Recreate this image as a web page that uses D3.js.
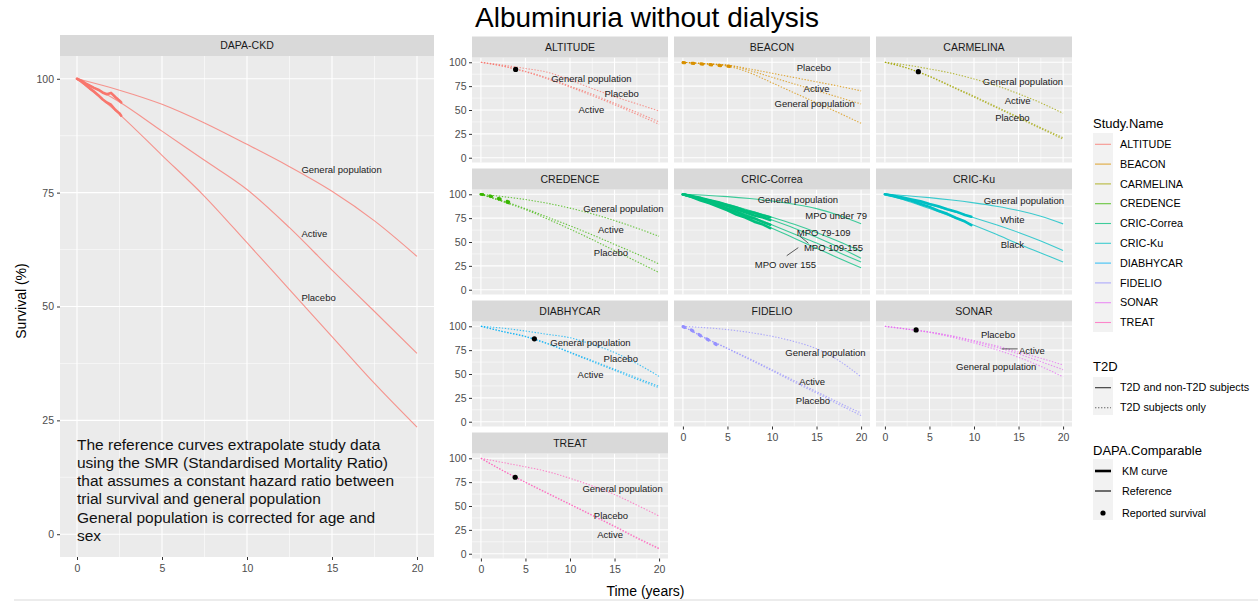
<!DOCTYPE html>
<html>
<head>
<meta charset="utf-8">
<script src="https://cdn.jsdelivr.net/npm/d3@7"></script>
<style>
  body { margin: 0; background: #fff; }
  svg { display: block; font-family: "Liberation Sans", Arial, sans-serif; }
</style>
</head>
<body>
<svg id="chart" width="1258" height="601"></svg>
<script>
  // time grid the reference curves were read at (years)
  const years = [0, 2.5, 5, 7.5, 10, 12.5, 15, 17.5, 20];

  const studyNames = ["ALTITUDE", "BEACON", "CARMELINA", "CREDENCE", "CRIC-Correa", "CRIC-Ku", "DIABHYCAR", "FIDELIO", "SONAR", "TREAT"];
  const studyColors = ["#F8766D", "#D89000", "#A3A500", "#39B600", "#00BF7D", "#00BFC4", "#00B0F6", "#9590FF", "#E76BF3", "#FF62BC"];

  // DAPA-CKD
  const dapaGeneral = [100, 97.5, 94.4, 90.3, 85.6, 80.7, 75.3, 68.8, 61];
  const dapaActive = [100, 94.9, 88.5, 82.1, 75.7, 67.3, 58, 48.9, 39.7];
  const dapaPlacebo = [100, 92.2, 83.2, 74.2, 64, 53.7, 43.4, 33.1, 23.5];
  const dapaKmTimes = [0, 0.25, 0.5, 0.75, 1, 1.25, 1.5, 1.75, 2, 2.25, 2.5, 2.6];
  const dapaKmActive = [100, 99.6, 99, 98.5, 98, 97.6, 97, 96.6, 96.9, 96, 95.2, 94.8];
  const dapaKmPlacebo = [100, 99.4, 98.7, 97.9, 97.2, 96.4, 95.5, 94.8, 94.3, 93.2, 92.4, 91.9];

  // ALTITUDE
  const altitudeGeneral = [100, 97, 93.5, 89.5, 81.5, 72.5, 64, 56.5, 49];
  const altitudePlacebo = [100, 96, 90.5, 83.5, 75, 66.5, 57, 47.5, 37.5];
  const altitudeActive = [100, 95.8, 90, 82.5, 74, 65, 55.5, 45.5, 35];

  // BEACON
  const beaconPlacebo = [100, 98.5, 97, 93, 88.5, 84, 79.5, 75, 70];
  const beaconActive = [100, 98.5, 97, 91.3, 84.3, 77.3, 70.3, 63.3, 56.3];
  const beaconGeneral = [100, 98.3, 96, 89, 78.5, 68, 57.5, 47, 36];
  const beaconKmTimes = [0, 1, 2, 3, 4, 5, 6];
  const beaconKm = [100, 99.3, 98.6, 97.8, 97, 96.2, 95.5];

  // CARMELINA
  const carmelinaGeneral = [100, 97, 93, 88.5, 82.5, 75.5, 67, 57.5, 46.5];
  const carmelinaActive = [100, 94, 85.5, 75, 64.5, 53.5, 42.5, 31.5, 21];
  const carmelinaPlacebo = [100, 93.8, 85, 74.3, 63.5, 52.5, 41.5, 30.5, 19.5];

  // CREDENCE
  const credenceGeneral = [100, 97.5, 94.5, 90.5, 85.5, 79.5, 72.5, 64.5, 56];
  const credenceActive = [100, 93, 85, 76, 67, 57.5, 47.5, 37.5, 27];
  const credencePlacebo = [100, 92, 84, 74, 63.5, 52.5, 41, 29.5, 18];
  const credenceKmTimes = [0, 0.5, 1, 1.5, 2, 2.5, 3, 3.3];
  const credenceKmActive = [100, 99.4, 98.4, 97.2, 95.8, 94.3, 92.6, 91.6];
  const credenceKmPlacebo = [100, 99.2, 98, 96.6, 95, 93.2, 91.3, 90.2];

  // CRIC-Correa
  const correaGeneral = [100, 99, 97.5, 95.5, 93, 89.5, 85, 78, 69];
  const correaUnder79 = [100, 95, 89.5, 83, 76, 68.5, 60, 50.5, 40];
  const correaMpo79 = [100, 94.5, 88, 81, 73, 64.5, 55, 44.5, 33];
  const correaMpo109 = [100, 93.5, 86, 77.5, 68, 58.5, 49, 39, 29];
  const correaMpo155 = [100, 93, 84, 74.5, 64.5, 54, 43.5, 33, 23];
  const correaKmTimes = [0, 1, 2, 3, 4, 5, 6, 7, 8, 9, 9.8];
  const correaKmUnder79 = [100, 98, 96.2, 93.8, 91.6, 88.8, 86.2, 82.8, 80.6, 77.8, 76];
  const correaKmMpo79 = [100, 97.8, 95.3, 93.2, 90.3, 87.7, 84.3, 81.2, 77.8, 75.7, 73];
  const correaKmMpo109 = [100, 97.4, 94.7, 91.3, 88.7, 84.8, 81.7, 77.8, 74.7, 70.8, 68];
  const correaKmMpo155 = [100, 97.1, 93.4, 90.6, 86.8, 83.2, 78.8, 75.7, 71.3, 68.2, 64.5];

  // CRIC-Ku
  const kuGeneral = [100, 98.5, 96.5, 94, 91, 87.5, 83, 77, 69];
  const kuWhite = [100, 94.5, 89, 82.5, 75.5, 68, 60, 51, 41];
  const kuBlack = [100, 93, 85, 76.5, 67.5, 58, 48, 38.5, 29];
  const kuKmTimes = [0, 1, 2, 3, 4, 5, 6, 7, 8, 9, 9.7];
  const kuKmWhite = [100, 98.4, 96.7, 94.6, 92.7, 89.8, 87.5, 84.3, 81.8, 78.3, 76.5];
  const kuKmBlack = [100, 98, 95.6, 93.2, 89.8, 86.8, 82.8, 79.5, 75.2, 71.4, 67.6];

  // DIABHYCAR
  const diabGeneral = [100, 98, 95, 91.5, 88, 81, 72.5, 61, 47.5];
  const diabPlacebo = [100, 94.5, 89.5, 82, 73, 64, 55, 46, 37];
  const diabActive = [100, 94.3, 89, 81.5, 72.3, 63, 53.8, 44.5, 35.5];

  // FIDELIO
  const fidelioGeneral = [100, 98.5, 96.5, 93.5, 89.5, 84, 76.5, 64, 47];
  const fidelioActive = [100, 88, 77, 66, 54.5, 43, 31.5, 20, 9];
  const fidelioPlacebo = [100, 87.5, 76.5, 65, 53.5, 41.5, 30, 18, 6.5];
  const fidelioKmTimes = [0, 0.5, 1, 1.5, 2, 2.5, 3, 3.5, 4];
  const fidelioKm = [100, 98.3, 96.2, 93.5, 90.5, 88, 85.5, 82.8, 80];

  // SONAR
  const sonarPlacebo = [100, 97, 94, 90, 85, 79.5, 73, 66.5, 59.5];
  const sonarActive = [100, 97, 94, 89.5, 84, 78, 71, 63, 54.5];
  const sonarGeneral = [100, 97, 93.5, 88.5, 82.5, 75.5, 67.5, 58, 47];

  // TREAT
  const treatGeneral = [100, 95.5, 91, 86, 79, 71, 62, 51, 39.5];
  const treatPlacebo = [100, 87, 75, 63.5, 52, 40.5, 29, 17, 5.7];
  const treatActive = [100, 86.8, 74.7, 63, 51.5, 40, 28.3, 16.2, 5];

  // reported survival points [year, %]
  const reported = {
    "ALTITUDE": [3.9, 92.5], "CARMELINA": [3.75, 90.2], "DIABHYCAR": [6, 86.8],
    "SONAR": [3.5, 96.2], "TREAT": [3.85, 80.1]
  };

  // curve labels [text, year, %]
  const dapaLabels = [["General population", 13.2, 80], ["Active", 13.2, 66], ["Placebo", 13.2, 52]];
  const altitudeLabels = [["General population", 12.4, 83.2], ["Placebo", 15.8, 67.5], ["Active", 12.4, 50]];
  const beaconLabels = [["Placebo", 14.7, 94.3], ["Active", 15, 72], ["General population", 14.8, 56.3]];
  const carmelinaLabels = [["General population", 15.5, 79.7], ["Active", 14.9, 59.4], ["Placebo", 14.3, 41.9]];
  const credenceLabels = [["General population", 16, 85.3], ["Active", 14.6, 63.3], ["Placebo", 14.6, 38.8]];
  const correaLabels = [["General population", 12.9, 94.8], ["MPO under 79", 17.2, 77.3], ["MPO 79-109", 15.8, 60.2], ["MPO 109-155", 16.9, 44.4], ["MPO over 155", 11.5, 26.7]];
  const kuLabels = [["General population", 15.6, 93.3], ["White", 14.3, 73], ["Black", 14.3, 46.8]];
  const diabLabels = [["General population", 12.3, 83.2], ["Placebo", 15.7, 65.8], ["Active", 12.3, 49.4]];
  const fidelioLabels = [["General population", 16, 72.1], ["Active", 14.5, 42], ["Placebo", 14.6, 22.1]];
  const sonarLabels = [["Placebo", 12.7, 91], ["Active", 16.5, 74.5], ["General population", 12.5, 57.8]];
  const treatLabels = [["General population", 15.9, 67.8], ["Placebo", 14.6, 39.5], ["Active", 14.5, 20.3]];

  // label leader segments [x1, y1, x2, y2] in data units
  const correaLeaders = [[13.1, 56.3, 14.1, 48.6], [12.95, 44.1, 11.65, 35.6]];
  const sonarLeaders = [[13.1, 76.3, 14.9, 76.3]];

  const svg = d3.select("#chart");
  const zip = (xs, ys) => xs.map((t, i) => [t, ys[i]]);

  const panels = [
    { name: "ALTITUDE", row: 0, col: 0, ref: [altitudeGeneral, altitudePlacebo, altitudeActive], km: [], labels: altitudeLabels },
    { name: "BEACON", row: 0, col: 1, ref: [beaconPlacebo, beaconActive, beaconGeneral],
      km: [zip(beaconKmTimes, beaconKm), zip(beaconKmTimes, beaconKm.map(v => v - 0.6))], labels: beaconLabels },
    { name: "CARMELINA", row: 0, col: 2, ref: [carmelinaGeneral, carmelinaActive, carmelinaPlacebo], km: [], labels: carmelinaLabels },
    { name: "CREDENCE", row: 1, col: 0, ref: [credenceGeneral, credenceActive, credencePlacebo],
      km: [zip(credenceKmTimes, credenceKmActive), zip(credenceKmTimes, credenceKmPlacebo)], labels: credenceLabels },
    { name: "CRIC-Correa", row: 1, col: 1, solid: true, ref: [correaGeneral, correaUnder79, correaMpo79, correaMpo109, correaMpo155],
      km: [zip(correaKmTimes, correaKmUnder79), zip(correaKmTimes, correaKmMpo79), zip(correaKmTimes, correaKmMpo109), zip(correaKmTimes, correaKmMpo155)],
      labels: correaLabels, leaders: correaLeaders },
    { name: "CRIC-Ku", row: 1, col: 2, solid: true, ref: [kuGeneral, kuWhite, kuBlack],
      km: [zip(kuKmTimes, kuKmWhite), zip(kuKmTimes, kuKmBlack)], labels: kuLabels },
    { name: "DIABHYCAR", row: 2, col: 0, ref: [diabGeneral, diabPlacebo, diabActive], km: [], labels: diabLabels },
    { name: "FIDELIO", row: 2, col: 1, ref: [fidelioGeneral, fidelioActive, fidelioPlacebo],
      km: [zip(fidelioKmTimes, fidelioKm), zip(fidelioKmTimes, fidelioKm.map(v => v - 0.8))], labels: fidelioLabels },
    { name: "SONAR", row: 2, col: 2, ref: [sonarPlacebo, sonarActive, sonarGeneral], km: [], labels: sonarLabels, leaders: sonarLeaders },
    { name: "TREAT", row: 3, col: 0, ref: [treatGeneral, treatPlacebo, treatActive], km: [], labels: treatLabels }
  ];

  const majorBreaks = [0, 25, 50, 75, 100];
  const minorBreaksY = [12.5, 37.5, 62.5, 87.5];
  const majorBreaksX = [0, 5, 10, 15, 20];
  const minorBreaksX = [2.5, 7.5, 12.5, 17.5];

  function frame(x, y, title) {
    const [x0, x1] = x.range();
    const [y1, y0] = y.range();
    svg.append("rect").attr("x", x0).attr("y", y0).attr("width", x1 - x0).attr("height", y1 - y0).attr("fill", "#ebebeb");
    const grid = svg.append("g").attr("stroke", "#fff");
    minorBreaksX.forEach(t => grid.append("line").attr("x1", x(t)).attr("x2", x(t)).attr("y1", y0).attr("y2", y1).attr("stroke-width", 0.55));
    minorBreaksY.forEach(v => grid.append("line").attr("y1", y(v)).attr("y2", y(v)).attr("x1", x0).attr("x2", x1).attr("stroke-width", 0.55));
    majorBreaksX.forEach(t => grid.append("line").attr("x1", x(t)).attr("x2", x(t)).attr("y1", y0).attr("y2", y1).attr("stroke-width", 1.1));
    majorBreaks.forEach(v => grid.append("line").attr("y1", y(v)).attr("y2", y(v)).attr("x1", x0).attr("x2", x1).attr("stroke-width", 1.1));
    svg.append("rect").attr("x", x0).attr("y", y0 - 21).attr("width", x1 - x0).attr("height", 21).attr("fill", "#d9d9d9");
    svg.append("text").attr("x", (x0 + x1) / 2).attr("y", y0 - 10.5).attr("dy", "0.35em")
      .attr("text-anchor", "middle").attr("font-size", "10.5px").attr("fill", "#1a1a1a").text(title);
  }

  function styleAxis(g) {
    g.select(".domain").remove();
    g.selectAll(".tick line").attr("stroke", "#333");
    g.selectAll(".tick text").attr("fill", "#4d4d4d").attr("font-size", "10.5px")
      .attr("font-family", "'Liberation Sans', Arial, sans-serif");
  }

  function drawCurves(x, y, color, dotted, refs, kms) {
    const refLine = d3.line().x(d => x(d[0])).y(d => y(d[1])).curve(d3.curveMonotoneX);
    const kmLine = d3.line().x(d => x(d[0])).y(d => y(d[1]));
    refs.forEach(vals => {
      svg.append("path").datum(zip(years, vals)).attr("d", refLine)
        .attr("fill", "none").attr("stroke", color).attr("stroke-opacity", 0.75).attr("stroke-width", 1.1)
        .attr("stroke-dasharray", dotted ? "1.4,1.6" : null);
    });
    kms.forEach(pts => {
      svg.append("path").datum(pts).attr("d", kmLine)
        .attr("fill", "none").attr("stroke", color).attr("stroke-width", 2.6)
        .attr("stroke-linecap", "round").attr("stroke-linejoin", "round")
        .attr("stroke-dasharray", dotted ? "2,7" : null);
    });
  }

  // ---- title
  svg.append("text").attr("x", 647).attr("y", 27).attr("text-anchor", "middle")
    .attr("font-size", "28px").attr("fill", "#000").text("Albuminuria without dialysis");

  // ---- DAPA-CKD (left plot)
  const leftX = d3.scaleLinear().domain([-1, 21]).range([60, 434]);
  const leftY = d3.scaleLinear().domain([-5, 105]).range([557, 56]);
  frame(leftX, leftY, "DAPA-CKD");
  drawCurves(leftX, leftY, studyColors[0], false, [dapaGeneral, dapaActive, dapaPlacebo],
    [zip(dapaKmTimes, dapaKmActive), zip(dapaKmTimes, dapaKmPlacebo)]);
  dapaLabels.forEach(([txt, t, v]) => {
    svg.append("text").attr("x", leftX(t)).attr("y", leftY(v)).attr("dy", "0.35em")
      .attr("font-size", "9.5px").attr("fill", "#1a1a1a").text(txt);
  });
  svg.append("g").attr("transform", "translate(60,0)")
    .call(d3.axisLeft(leftY).tickValues(majorBreaks).tickSize(3).tickPadding(3)).call(styleAxis);
  svg.append("g").attr("transform", "translate(0,557)")
    .call(d3.axisBottom(leftX).tickValues(majorBreaksX).tickSize(3).tickPadding(5)).call(styleAxis);

  const note = ["The reference curves extrapolate study data",
    "using the SMR (Standardised Mortality Ratio)",
    "that assumes a constant hazard ratio between",
    "trial survival and general population",
    "General population is corrected for age and",
    "sex"];
  svg.append("text").attr("font-size", "15.5px").attr("fill", "#111")
    .selectAll("tspan").data(note).join("tspan")
    .attr("x", 77).attr("y", (d, i) => 449.5 + i * 18.3).text(d => d);

  // ---- facet panels
  const colLeft = [472, 674, 876];
  const panelW = 196, panelH = 105;
  const bottomRow = [3, 2, 2];

  panels.forEach(p => {
    const top = 57.5 + 132 * p.row;
    const x = d3.scaleLinear().domain([-1, 21]).range([colLeft[p.col], colLeft[p.col] + panelW]);
    const y = d3.scaleLinear().domain([-5, 105]).range([top + panelH, top]);
    const color = studyColors[studyNames.indexOf(p.name)];
    frame(x, y, p.name);
    drawCurves(x, y, color, !p.solid, p.ref, p.km);
    (p.leaders || []).forEach(([a, b, c, d]) => {
      svg.append("line").attr("x1", x(a)).attr("y1", y(b)).attr("x2", x(c)).attr("y2", y(d))
        .attr("stroke", "#333").attr("stroke-width", 0.8);
    });
    p.labels.forEach(([txt, t, v]) => {
      svg.append("text").attr("x", x(t)).attr("y", y(v)).attr("dy", "0.35em").attr("text-anchor", "middle")
        .attr("font-size", "9.5px").attr("fill", "#1a1a1a").text(txt);
    });
    if (reported[p.name]) {
      const [t, v] = reported[p.name];
      svg.append("circle").attr("cx", x(t)).attr("cy", y(v)).attr("r", 2.6).attr("fill", "#000");
    }
    if (p.col === 0) {
      svg.append("g").attr("transform", `translate(${colLeft[0]},0)`)
        .call(d3.axisLeft(y).tickValues(majorBreaks).tickSize(3).tickPadding(2.5)).call(styleAxis);
    }
    if (bottomRow[p.col] === p.row) {
      svg.append("g").attr("transform", `translate(0,${top + panelH})`)
        .call(d3.axisBottom(x).tickValues(majorBreaksX).tickSize(3).tickPadding(4)).call(styleAxis);
    }
  });

  // ---- axis titles
  svg.append("text").attr("x", 645.5).attr("y", 596).attr("text-anchor", "middle")
    .attr("font-size", "14px").attr("fill", "#000").text("Time (years)");
  svg.append("text").attr("transform", "translate(26,301) rotate(-90)").attr("text-anchor", "middle")
    .attr("font-size", "14px").attr("fill", "#000").text("Survival (%)");

  // ---- legends
  const lg = svg.append("g").attr("font-size", "10.8px").attr("fill", "#000");
  lg.append("text").attr("x", 1093).attr("y", 127.5).attr("font-size", "13px").text("Study.Name");
  lg.append("rect").attr("x", 1093).attr("y", 133).attr("width", 20).attr("height", 199).attr("fill", "#f2f2f2");
  studyNames.forEach((s, i) => {
    const cy = 144.3 + i * 19.8;
    lg.append("line").attr("x1", 1095).attr("x2", 1111).attr("y1", cy).attr("y2", cy)
      .attr("stroke", studyColors[i]).attr("stroke-opacity", 0.75).attr("stroke-width", 1.1);
    lg.append("text").attr("x", 1120).attr("y", cy).attr("dy", "0.35em").text(s);
  });

  const t2dItems = ["T2D and non-T2D subjects", "T2D subjects only"];
  lg.append("text").attr("x", 1093).attr("y", 370.5).attr("font-size", "13px").text("T2D");
  lg.append("rect").attr("x", 1093).attr("y", 377).attr("width", 20).attr("height", 38).attr("fill", "#f2f2f2");
  t2dItems.forEach((s, i) => {
    const cy = 387.7 + i * 20;
    lg.append("line").attr("x1", 1095).attr("x2", 1111).attr("y1", cy).attr("y2", cy)
      .attr("stroke", i === 0 ? "#333" : "#666").attr("stroke-width", 1.1)
      .attr("stroke-dasharray", i === 0 ? null : "1.4,1.6");
    lg.append("text").attr("x", 1120).attr("y", cy).attr("dy", "0.35em").text(s);
  });

  const dapaItems = ["KM curve", "Reference", "Reported survival"];
  lg.append("text").attr("x", 1093).attr("y", 454.5).attr("font-size", "13px").text("DAPA.Comparable");
  lg.append("rect").attr("x", 1093).attr("y", 459).attr("width", 20).attr("height", 61).attr("fill", "#f2f2f2");
  dapaItems.forEach((s, i) => {
    const cy = [471, 491, 513][i];
    if (i < 2) {
      lg.append("line").attr("x1", 1095).attr("x2", 1111).attr("y1", cy).attr("y2", cy)
        .attr("stroke", "#000").attr("stroke-width", i === 0 ? 2.6 : 1.1);
    } else {
      lg.append("circle").attr("cx", 1103).attr("cy", cy).attr("r", 2.6).attr("fill", "#000");
    }
    lg.append("text").attr("x", 1122).attr("y", cy).attr("dy", "0.35em").text(s);
  });

  // bottom rule
  svg.append("line").attr("x1", 14).attr("x2", 1258).attr("y1", 600).attr("y2", 600)
    .attr("stroke", "#d9d9d9").attr("stroke-width", 1);
</script>
</body>
</html>
